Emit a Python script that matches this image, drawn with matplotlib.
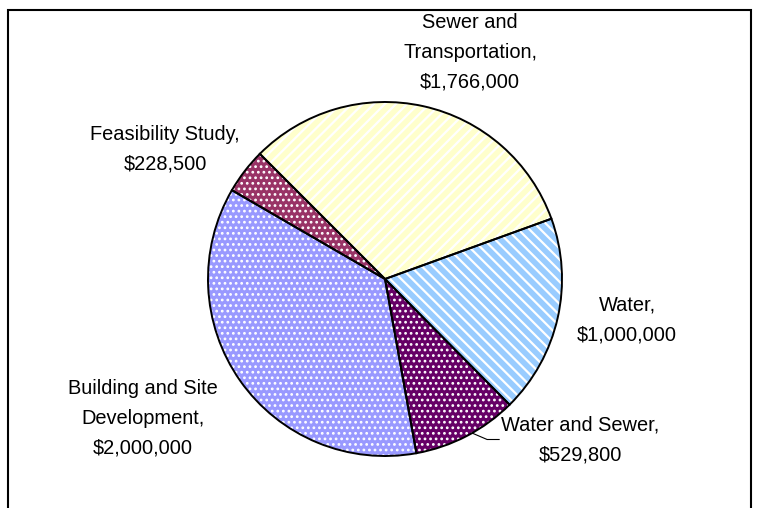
import numpy as np
import matplotlib
matplotlib.use("Agg")
import matplotlib.pyplot as plt
from matplotlib.patches import Rectangle

plt.rcParams["font.family"] = ["Liberation Sans", "DejaVu Sans"]

# funding by project type, clockwise from the upper left
categories = ["Sewer and\nTransportation", "Water", "Water and Sewer",
              "Building and Site\nDevelopment", "Feasibility Study"]
amounts = [1766000, 1000000, 529800, 2000000, 228500]

face_colors = ["#FFFFCC", "#99CCFF", "#660066", "#9999FF", "#993366"]
patterns = ["///", "\\\\\\", "...", "...", "..."]
hatch_widths = [1.6, 1.6, 1.2, 1.2, 1.2]

# label block centres (pixels, y up)
label_xy = [(470, 456), (627, 188), (580, 68), (143, 90), (165, 359)]

fig = plt.figure(figsize=(7.59, 5.08), dpi=100)
ax = fig.add_axes([0, 0, 1, 1])

center = (385, 229)
radius = 177

# filled, patterned slices (hatch drawn in white)
wedges, _ = ax.pie(amounts, colors=face_colors, startangle=135,
                   counterclock=False, center=center, radius=radius,
                   hatch=patterns,
                   wedgeprops=dict(edgecolor="white", linewidth=0))
for w, hw in zip(wedges, hatch_widths):
    if hasattr(w, "set_hatch_linewidth"):
        w.set_hatch_linewidth(hw)

# black outlines on top
ax.pie(amounts, startangle=135, counterclock=False, center=center,
       radius=radius,
       wedgeprops=dict(edgecolor="black", linewidth=1.4, fill=False))

ax.set_xlim(0, 759)
ax.set_ylim(0, 508)
ax.axis("off")

for w, name, amt, (tx, ty) in zip(wedges, categories, amounts, label_xy):
    ax.text(tx, ty, f"{name},\n${amt:,.0f}", ha="center", va="center",
            fontsize=14.4, linespacing=1.7)

# leader line for the small "Water and Sewer" slice
ws = wedges[2]
mid = np.deg2rad((ws.theta1 + ws.theta2) / 2 + 2)
ex = center[0] + radius * np.cos(mid)
ey = center[1] + radius * np.sin(mid)
ty = label_xy[2][1]
ax.plot([ex, ex + 15, ex + 27], [ey, ty + 0.5, ty + 0.5],
        color="black", linewidth=0.8)

# chart border
ax.add_patch(Rectangle((8, -10), 743, 508, fill=False, edgecolor="black",
                       linewidth=1.5, clip_on=False))

fig.savefig("out.png", dpi=100)
